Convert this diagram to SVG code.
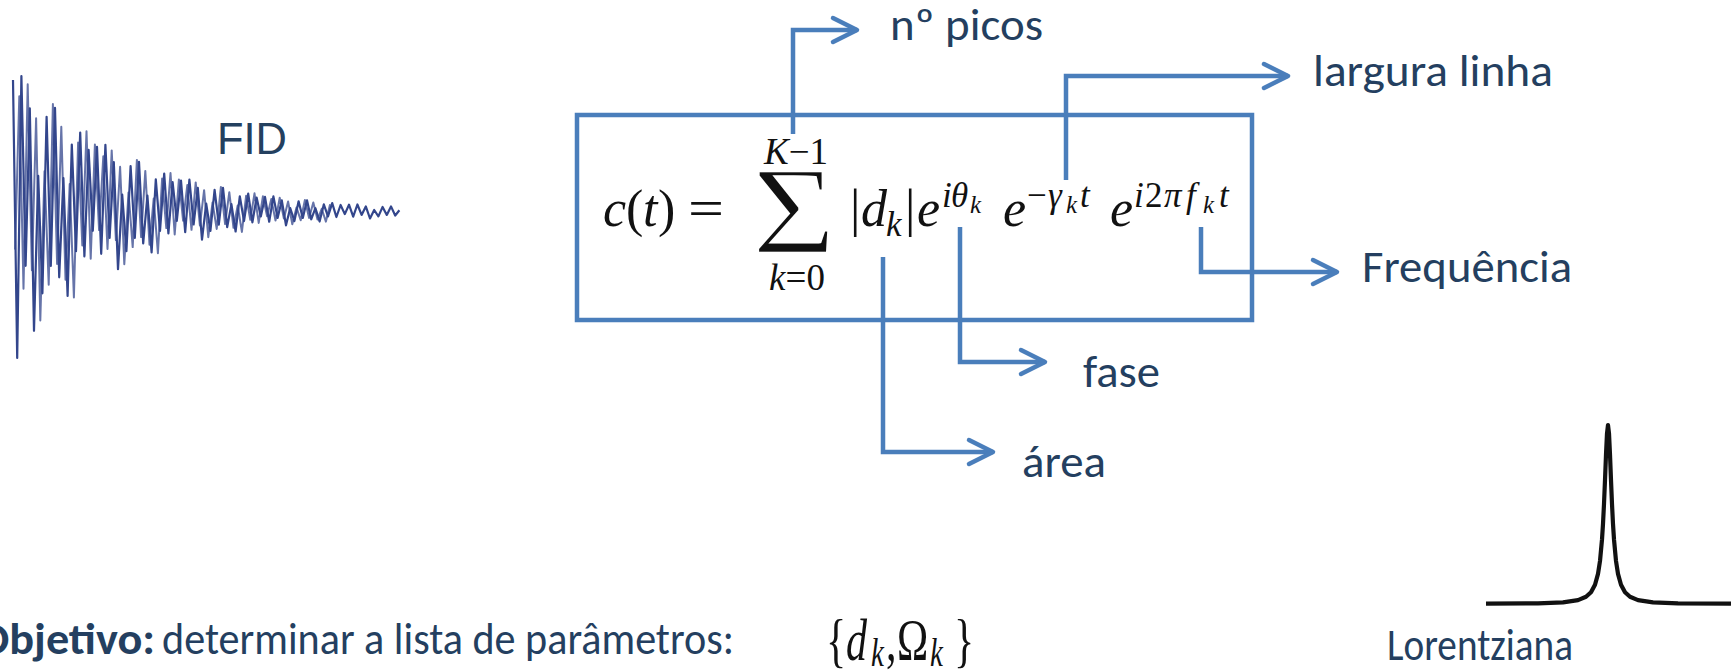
<svg xmlns="http://www.w3.org/2000/svg" width="1733" height="672" viewBox="0 0 1733 672">
<style>
.lbl{font-family:Carlito,Lato,'Liberation Sans',sans-serif;font-size:45px;fill:#243F60}
.conn{fill:none;stroke:#4A7EBB;stroke-width:4.5;marker-end:url(#ah)}
.box{fill:none;stroke:#4A7EBB;stroke-width:4.5}
.m{font-family:'Liberation Serif','DejaVu Serif',serif;fill:#111}
.i{font-style:italic}
.wave{fill:none;stroke:#33468C;stroke-linejoin:round}
</style>
<defs>
<marker id="ah" markerUnits="userSpaceOnUse" markerWidth="40" markerHeight="40" viewBox="-30 -20 40 40" refX="0" refY="0" orient="auto" overflow="visible">
<path d="M-24,-12 L0,0 L-24,12" fill="none" stroke="#4A7EBB" stroke-width="4.5" stroke-linecap="round" stroke-linejoin="round"/>
</marker>
</defs>
<rect width="1733" height="672" fill="#ffffff"/>

<g id="fid">
<polyline class="wave" stroke-width="2" opacity="0.75" points="15.1,249.5 19.3,96.3 23.5,288.7 27.7,84.3 31.9,270.3 36.1,118.2 40.3,320.5 44.5,171.3 48.7,284.8 52.9,104 57.1,264 61.3,126.7 65.5,279.8 69.7,184 73.9,297.5 78.1,142.6 82.3,245.5 86.5,131.3 90.7,258.7 94.9,144.5 99.1,230.1 103.3,156.2 107.5,249 111.7,150.4 115.9,240.1 120.1,166.8 124.3,264.3 128.5,192.4 132.7,247.1 136.9,159.9 141.1,237.1 145.3,170.9 149.5,244.7 153.7,198.5 157.9,253.2 162.1,178.6 166.3,228.1 170.5,173.1 174.7,234.5 178.9,179.4 183.1,220.7 187.3,185.1 191.5,229.8 195.7,182.4 199.9,225.5 204.1,190.2 208.3,237.2 212.5,202.5 216.7,228.9 220.9,186.9 225.1,224.1 229.3,192.2 233.5,227.8 237.7,205.5 241.9,231.9 246.1,195.8 250.3,219.8 254.5,193.3 258.7,222.9 262.9,196.3 267.1,216.2 271.3,199 275.5,220.6 279.7,197.7 283.9,218.5 288.1,201.5 292.3,224.2 296.5,207.4 300.7,220.2 304.9,199.9 309.1,217.9 313.3,202.4 317.5,219.6 321.7,208.8 325.9,221.6 330.1,204.2"/>
<polyline class="wave" stroke-width="2.2" points="13,80 17.2,358 21.4,76 25.6,265.8 29.8,108.3 34,330.8 38.2,175.8 42.4,293.3 46.6,116.8 50.8,266 55,107.9 59.2,277.3 63.4,178.1 67.6,296 71.8,144.5 76,251.1 80.2,132.5 84.4,256.4 88.6,149.8 92.8,230.8 97,146.9 101.2,253.8 105.4,144.8 109.6,237.9 113.8,162 118,269.2 122.2,194.6 126.4,251.2 130.6,166.1 134.8,238 139,161.8 143.2,243.5 147.4,195.7 151.6,252.5 155.8,179.4 160,230.8 164.2,173.7 168.4,233.4 172.6,182 176.8,221 181,180.6 185.2,232.2 189.4,179.6 193.6,224.5 197.8,187.9 202,239.6 206.2,203.6 210.4,230.9 214.6,189.9 218.8,224.6 223,187.8 227.2,227.1 231.4,204.1 235.6,231.5 239.8,196.3 244,221.1 248.2,193.6 252.4,222.3 256.6,197.5 260.8,216.4 265,196.9 269.2,221.7 273.4,196.4 277.6,218 281.8,200.4 286,225.3 290.2,208 294.4,221.1 298.6,201.3 302.8,218 307,200.3 311.2,219.3 315.4,208.2 319.6,221.5 323.8,204.4 328,216.4 332.2,203.1 336.4,217 340.6,205 344.8,214.1 349,204.7 353.2,216.7 357.4,204.5 361.6,214.9 365.8,206.4 370,218.5 374.2,210 378.4,216.4 382.6,206.9 386.8,214.9 391,206.4 395.2,215.5 399.4,210.2"/>
<text x="217" y="154" font-family="'Liberation Sans',Arial,sans-serif" font-size="44" fill="#24405F" textLength="70" lengthAdjust="spacingAndGlyphs">FID</text>
</g>

<g id="equation">
<rect class="box" x="577" y="115" width="675" height="205"/>
<g class="m" font-size="52">
<text x="603" y="226" class="i">c</text>
<text x="626" y="226">(</text>
<text x="643" y="226" class="i">t</text>
<text x="658" y="226">)</text>
<text x="688" y="226" textLength="36" lengthAdjust="spacingAndGlyphs">=</text>
<text x="752" y="253" font-size="125" textLength="84" lengthAdjust="spacingAndGlyphs" stroke="#fff" stroke-width="2.5">Σ</text>
<text x="796" y="164" font-size="37" text-anchor="middle"><tspan class="i">K</tspan>−1</text>
<text x="797" y="290" font-size="37" text-anchor="middle"><tspan class="i">k</tspan>=0</text>
<text x="850" y="226">|</text>
<text x="861" y="226" class="i">d</text>
<text x="886" y="236" font-size="35" class="i">k</text>
<text x="905" y="226">|</text>
<text x="917" y="226" class="i">e</text>
<text x="942" y="207" font-size="35" class="i">i</text>
<text x="951" y="207" font-size="35" class="i">θ</text>
<text x="970" y="213" font-size="25" class="i">k</text>
<text x="1003" y="226" class="i">e</text>
<text x="1027" y="207" font-size="35">−</text>
<text x="1048" y="207" font-size="35" class="i">γ</text>
<text x="1066" y="213" font-size="25" class="i">k</text>
<text x="1080" y="207" font-size="35" class="i">t</text>
<text x="1110" y="226" class="i">e</text>
<text x="1134" y="207" font-size="35" class="i">i</text>
<text x="1145" y="207" font-size="35">2</text>
<text x="1164" y="207" font-size="35" class="i">π</text>
<text x="1186" y="207" font-size="35" class="i">f</text>
<text x="1203" y="213" font-size="25" class="i">k</text>
<text x="1219" y="207" font-size="35" class="i">t</text>
</g>
</g>

<g id="connectors">
<path class="conn" d="M793,134 V30 H857"/>
<path class="conn" d="M1066,180 V76 H1288"/>
<path class="conn" d="M960,227 V362 H1045"/>
<path class="conn" d="M883,257 V452 H993"/>
<path class="conn" d="M1201,227 V272 H1337"/>
</g>

<g id="label-picos"><text class="lbl" x="890" y="40" textLength="153" lengthAdjust="spacingAndGlyphs">nº picos</text></g>
<g id="label-largura"><text class="lbl" x="1313" y="86" textLength="240" lengthAdjust="spacingAndGlyphs">largura linha</text></g>
<g id="label-freq"><text class="lbl" x="1362" y="282" textLength="210" lengthAdjust="spacingAndGlyphs">Frequência</text></g>
<g id="label-fase"><text class="lbl" x="1083" y="387" textLength="77" lengthAdjust="spacingAndGlyphs">fase</text></g>
<g id="label-area"><text class="lbl" x="1022" y="477" textLength="84" lengthAdjust="spacingAndGlyphs">área</text></g>

<g id="objetivo">
<text class="lbl" x="-22" y="654" font-weight="bold" textLength="177" lengthAdjust="spacingAndGlyphs">Objetivo:</text>
<text class="lbl" x="162" y="654" textLength="572" lengthAdjust="spacingAndGlyphs">determinar a lista de parâmetros:</text>
<g class="m" font-size="42" transform="translate(826,660) scale(1,1.4)">
<text x="0" y="0">{</text>
<text x="20" y="0" class="i">d</text>
<text x="45" y="4" font-size="29" class="i">k</text>
<text x="60" y="0">,</text>
<text x="71" y="0">Ω</text>
<text x="104" y="4" font-size="29" class="i">k</text>
<text x="128" y="0">}</text>
</g>
</g>

<g id="lorentzian">
<polyline fill="none" stroke="#111" stroke-width="4.2" stroke-linejoin="round" points="1486,603.7 1538,603.3 1563,602.3 1578,600.1 1586,596.8 1591,592.3 1595,584.8 1598,573.9 1600,561 1602,539.5 1603,523.9 1604,504 1605,480.1 1606,454.5 1607,433.4 1608,425 1609,433.4 1610,454.5 1611,480.1 1612,504 1613,523.9 1614,539.5 1616,561 1618,573.9 1621,584.8 1625,592.3 1630,596.8 1638,600.1 1653,602.3 1678,603.3 1731,603.7"/>
<text class="lbl" x="1387" y="660" textLength="186" lengthAdjust="spacingAndGlyphs">Lorentziana</text>
</g>
</svg>
